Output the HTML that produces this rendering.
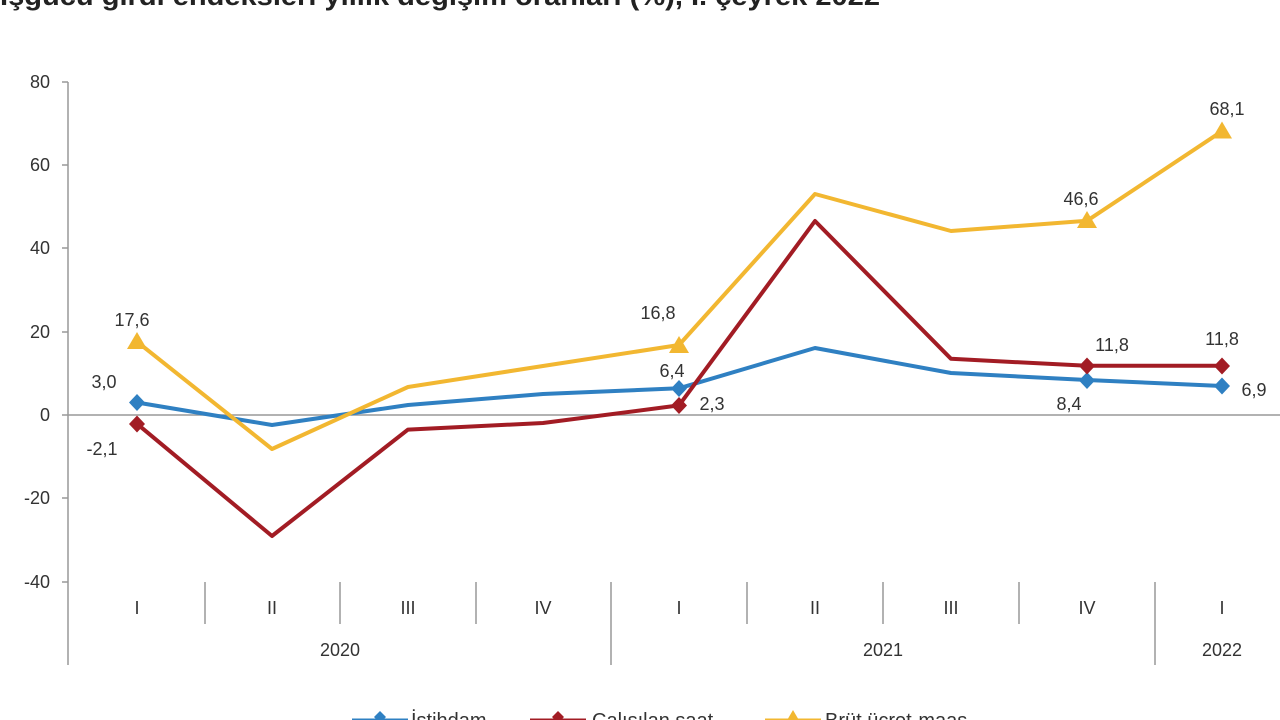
<!DOCTYPE html>
<html><head><meta charset="utf-8"><style>
html,body{margin:0;padding:0;background:#fff;width:1280px;height:720px;overflow:hidden}
svg{display:block}
text{font-family:"Liberation Sans",sans-serif;fill:#333}
</style></head><body>
<svg width="1280" height="720" viewBox="0 0 1280 720">
<text x="0" y="5" font-size="27" font-weight="bold" textLength="880" lengthAdjust="spacingAndGlyphs" style="fill:#222">İşgücü girdi endeksleri yıllık değişim oranları (%), I. çeyrek 2022</text>
<g stroke="#999" stroke-width="1.5" fill="none">
<line x1="68" y1="82" x2="68" y2="665"/>
<line x1="68" y1="415" x2="1290" y2="415"/>
<line x1="62" y1="82" x2="68" y2="82"/><line x1="62" y1="165" x2="68" y2="165"/><line x1="62" y1="248" x2="68" y2="248"/><line x1="62" y1="332" x2="68" y2="332"/><line x1="62" y1="415" x2="68" y2="415"/><line x1="62" y1="498" x2="68" y2="498"/><line x1="62" y1="582" x2="68" y2="582"/>
<line x1="205" y1="582" x2="205" y2="624"/><line x1="340" y1="582" x2="340" y2="624"/><line x1="476" y1="582" x2="476" y2="624"/>
<line x1="611" y1="582" x2="611" y2="665"/>
<line x1="747" y1="582" x2="747" y2="624"/><line x1="883" y1="582" x2="883" y2="624"/><line x1="1019" y1="582" x2="1019" y2="624"/>
<line x1="1155" y1="582" x2="1155" y2="665"/>
</g>
<g font-size="18" text-anchor="end">
<text x="50" y="88">80</text><text x="50" y="171">60</text><text x="50" y="254">40</text><text x="50" y="338">20</text><text x="50" y="421">0</text><text x="50" y="504">-20</text><text x="50" y="588">-40</text>
</g>
<g font-size="18" text-anchor="middle">
<text x="137" y="614">I</text><text x="272" y="614">II</text><text x="408" y="614">III</text><text x="543" y="614">IV</text><text x="679" y="614">I</text><text x="815" y="614">II</text><text x="951" y="614">III</text><text x="1087" y="614">IV</text><text x="1222" y="614">I</text>
<text x="340" y="656">2020</text><text x="883" y="656">2021</text><text x="1222" y="656">2022</text>
</g>
<g fill="none" stroke-width="4" stroke-linejoin="round">
<polyline stroke="#2f80c2" points="137,402.5 272,425 408,405 543,394 679,388.3 815,348 951,373 1087,380 1222,386"/>
<polyline stroke="#a21c24" points="137,423.8 272,536 408,429.6 543,423 679,405.4 815,221 951,358.8 1087,365.8 1222,365.8"/>
<polyline stroke="#f2b731" points="137,341.7 272,449 408,387 543,366 679,345 815,194 951,231 1087,220.8 1222,131.2"/>
</g>
<g fill="#2f80c2">
<path d="M137,394 l8,8.5 l-8,8.5 l-8,-8.5z"/><path d="M679,380 l8,8.5 l-8,8.5 l-8,-8.5z"/><path d="M1087,372 l8,8.5 l-8,8.5 l-8,-8.5z"/><path d="M1222,377.5 l8,8.5 l-8,8.5 l-8,-8.5z"/>
</g>
<g fill="#a21c24">
<path d="M137,415.5 l8,8.5 l-8,8.5 l-8,-8.5z"/><path d="M679,397 l8,8.5 l-8,8.5 l-8,-8.5z"/><path d="M1087,357.5 l8,8.5 l-8,8.5 l-8,-8.5z"/><path d="M1222,357.5 l8,8.5 l-8,8.5 l-8,-8.5z"/>
</g>
<g fill="#f2b731">
<path d="M137,332 l10,17 h-20z"/><path d="M679,336 l10,17 h-20z"/><path d="M1087,211 l10,17 h-20z"/><path d="M1222,121.5 l10,17 h-20z"/>
</g>
<g font-size="18" text-anchor="middle">
<text x="132" y="326">17,6</text><text x="104" y="388">3,0</text><text x="102" y="455">-2,1</text>
<text x="658" y="319">16,8</text><text x="672" y="377">6,4</text><text x="712" y="410">2,3</text>
<text x="1081" y="205">46,6</text><text x="1227" y="115">68,1</text>
<text x="1112" y="351">11,8</text><text x="1222" y="345">11,8</text>
<text x="1069" y="410">8,4</text><text x="1254" y="396">6,9</text>
</g>
<g stroke-width="3">
<line x1="352" y1="720" x2="408" y2="720" stroke="#2f80c2"/>
<line x1="530" y1="720" x2="586" y2="720" stroke="#a21c24"/>
<line x1="765" y1="720" x2="821" y2="720" stroke="#f2b731"/>
</g>
<path d="M380,711 l6,6 l-6,6 l-6,-6z" fill="#2f80c2"/>
<path d="M558,711 l6,6 l-6,6 l-6,-6z" fill="#a21c24"/>
<path d="M793,710 l7,12 h-14z" fill="#f2b731"/>
<g font-size="20"><text x="411" y="727">İstihdam</text><text x="592" y="727">Çalışılan saat</text><text x="825" y="727">Brüt ücret-maaş</text></g>
</svg>
</body></html>
